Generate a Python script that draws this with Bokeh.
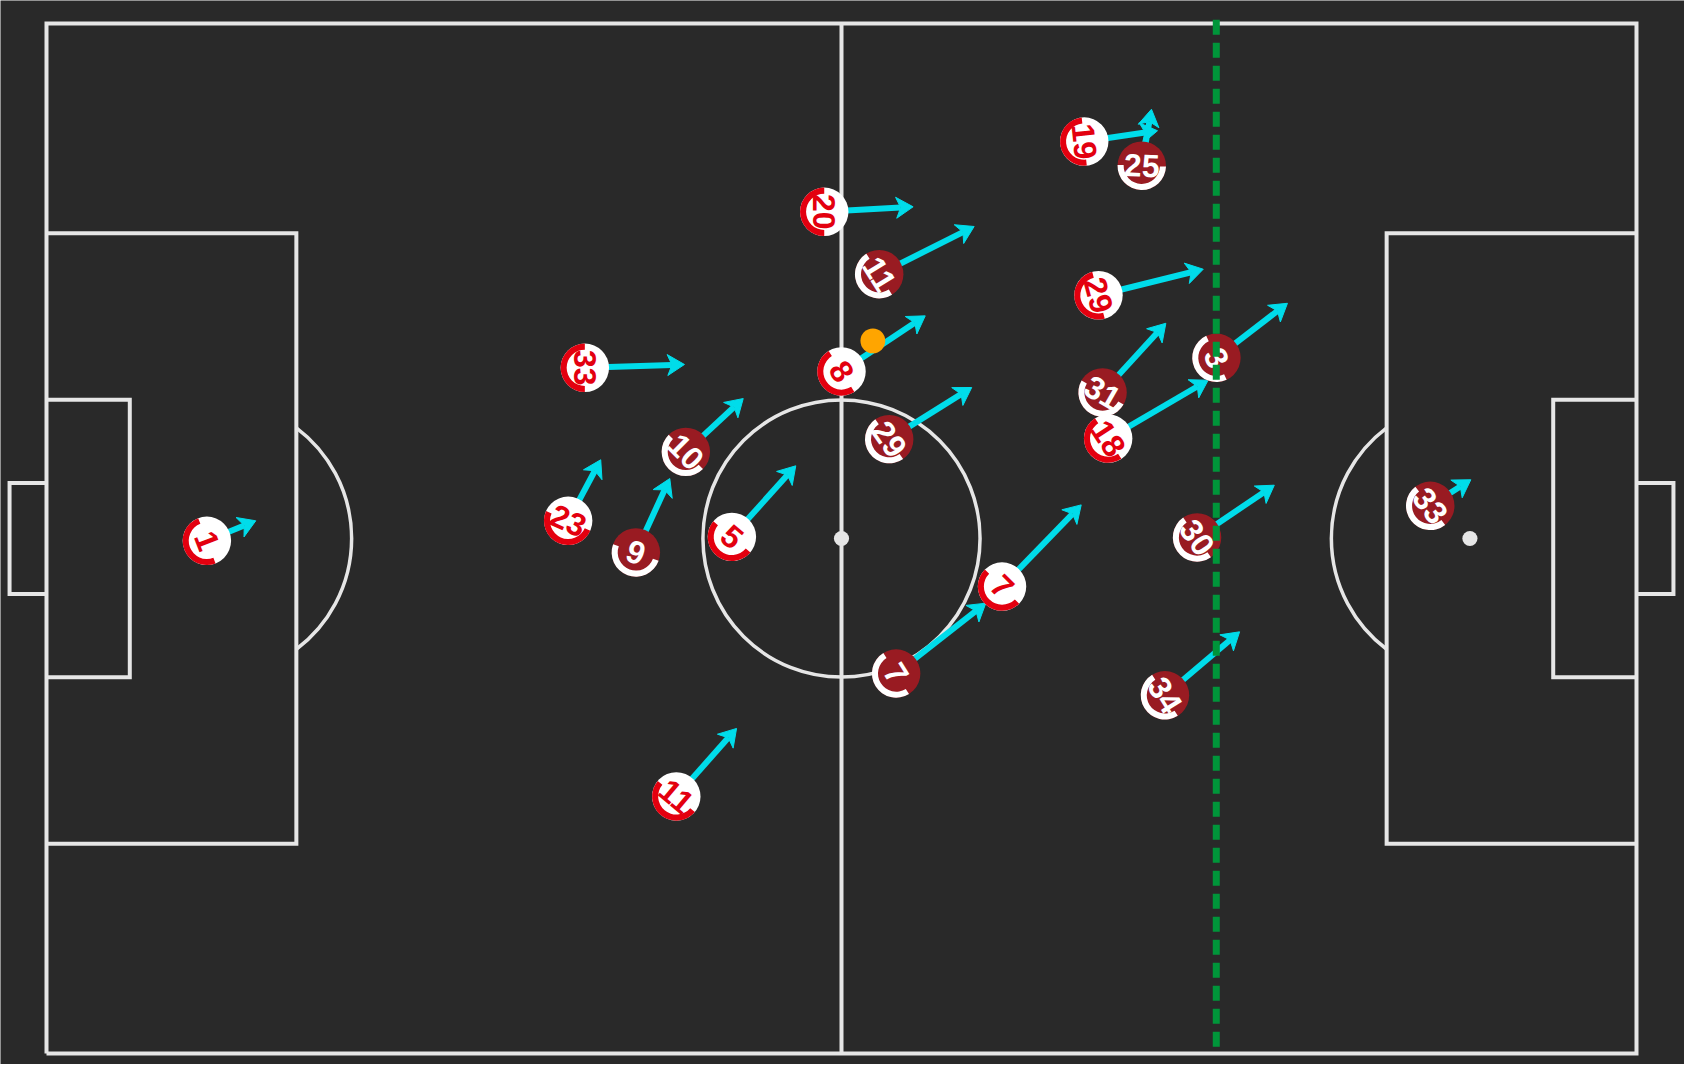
import numpy as np
from bokeh.plotting import figure
from bokeh.models import ColumnDataSource
from bokeh.core.properties import value
from bokeh.embed import file_html
from bokeh.resources import INLINE

# pitch 105 x 68 m
PITCH_L = 105.0
PITCH_W = 68.0

BG = "#292929"
LINE = "#e6e6e6"
CYAN = "#00dcea"
HOME_FILL = "#ffffff"
HOME_MARK = "#e3000f"
AWAY_FILL = "#991b22"
AWAY_MARK = "#ffffff"
GREEN = "#00953a"
BALL = "#ffa500"

# home team (white shirts)
home_num = ["1", "33", "23", "11", "5", "8", "20", "7", "29", "18", "19"]
home_x = [10.59, 35.55, 34.45, 41.59, 45.26, 52.50, 51.36, 63.10, 69.47, 70.11, 68.53]
home_y = [33.85, 45.27, 35.17, 16.97, 34.11, 45.03, 55.57, 30.83, 50.06, 40.60, 60.21]
home_end_x = [13.82, 42.13, 36.60, 45.57, 49.48, 58.03, 57.23, 68.33, 76.39, 76.71, 73.37]
home_end_y = [35.17, 45.49, 39.20, 21.46, 38.80, 48.70, 55.90, 36.22, 51.78, 44.45, 60.92]
home_facing = [21, 0, 66, 50, 50, 32, 0, 45, 15, 33, 6]

# away team (dark red shirts)
away_num = ["9", "10", "11", "29", "7", "25", "31", "3", "30", "34", "33"]
away_x = [38.92, 42.22, 54.99, 55.65, 56.11, 72.33, 69.74, 77.26, 75.98, 73.86, 91.38]
away_y = [33.08, 39.72, 51.45, 40.56, 25.09, 58.61, 43.64, 45.93, 34.07, 23.65, 36.16]
away_end_x = [41.16, 46.01, 61.26, 61.10, 62.03, 72.97, 73.92, 81.95, 81.08, 78.79, 94.06]
away_end_y = [37.96, 43.24, 54.60, 43.97, 29.73, 62.34, 48.21, 49.53, 37.52, 27.84, 37.88]
away_facing = [70, 45, 32, 35, 32, 88, 60, 25, 35, 32, 38]

ball_x = [54.57]
ball_y = [47.05]

offside_x = 77.25

PX = 15.143  # pixels per metre

p = figure(width=1684, height=1064, x_range=(-3.038, 108.17), y_range=(-0.726, 69.52),
           x_axis_type=None, y_axis_type=None, output_backend="svg", toolbar_location=None,
           min_border=0, background_fill_color=BG, border_fill_color=BG, outline_line_color=None)
p.grid.visible = False

# pitch markings
L, W = PITCH_L, PITCH_W
box_y0, box_y1 = W/2 - 20.16, W/2 + 20.16
ga_y0, ga_y1 = W/2 - 9.16, W/2 + 9.16
g_y0, g_y1 = W/2 - 3.66, W/2 + 3.66
xs = [[0, L, L, 0, 0], [L/2, L/2],
      [0, 16.5, 16.5, 0], [L, L-16.5, L-16.5, L],
      [0, 5.5, 5.5, 0], [L, L-5.5, L-5.5, L],
      [0, -2.44, -2.44, 0], [L, L+2.44, L+2.44, L]]
ys = [[0, 0, W, W, 0], [0, W],
      [box_y0, box_y0, box_y1, box_y1], [box_y0, box_y0, box_y1, box_y1],
      [ga_y0, ga_y0, ga_y1, ga_y1], [ga_y0, ga_y0, ga_y1, ga_y1],
      [g_y0, g_y0, g_y1, g_y1], [g_y0, g_y0, g_y1, g_y1]]
p.multi_line(xs, ys, line_color=LINE, line_width=4, line_join="miter", level="underlay")
p.circle(L/2, W/2, radius=9.15, fill_color=None, line_color=LINE, line_width=3.5, level="underlay")
a = np.degrees(np.arccos(5.5/9.15))
p.arc([11, L-11], [W/2, W/2], radius=9.15, start_angle=[-a, 180-a], end_angle=[a, 180+a],
      start_angle_units="deg", end_angle_units="deg", line_color=LINE, line_width=3.5, level="underlay")
p.circle([11, L/2, L-11], [W/2, W/2, W/2], radius=0.5, fill_color=LINE, line_color=None, level="underlay")


def arrows(x, y, ex, ey):
    x, y, ex, ey = map(np.asarray, (x, y, ex, ey))
    d = np.hypot(ex - x, ey - y)
    ux, uy = (ex - x) / d, (ey - y) / d
    hl, hw, notch = 17 / PX, 10.5 / PX, 12.5 / PX
    nx, ny = ex - ux * notch, ey - uy * notch
    p.segment(x, y, nx, ny, line_color=CYAN, line_width=6, level="underlay")
    bx, by = ex - ux * hl, ey - uy * hl
    hx = [[e, b - v * hw, n, b + v * hw] for e, b, n, v in zip(ex, bx, nx, uy)]
    hy = [[e, b + u * hw, n, b - u * hw] for e, b, n, u in zip(ey, by, ny, ux)]
    p.patches(hx, hy, fill_color=CYAN, line_color=CYAN, line_width=1, level="underlay")


def team_source(nums, x, y, facing):
    facing = np.array(facing, dtype=float)
    return ColumnDataSource(dict(num=nums, x=x, y=y, r0=facing + 90, r1=facing + 270, ta=facing - 90))


arrows(away_x, away_y, away_end_x, away_end_y)
arrows(home_x, home_y, home_end_x, home_end_y)

away_src = team_source(away_num, away_x, away_y, away_facing)
home_src = team_source(home_num, home_x, home_y, home_facing)

for src, fill, mark in [(away_src, AWAY_FILL, AWAY_MARK), (home_src, HOME_FILL, HOME_MARK)]:
    p.circle("x", "y", radius=1.6, fill_color=fill, line_color=None, source=src)
    p.annular_wedge("x", "y", inner_radius=1.2, outer_radius=1.6, start_angle="r0", end_angle="r1",
                    start_angle_units="deg", end_angle_units="deg", fill_color=mark, line_color=None, source=src)
    p.text("x", "y", text="num", angle="ta", angle_units="deg", text_color=mark,
           text_font=value("Liberation Sans"), text_font_size="32px", text_font_style="bold",
           text_align="center", text_baseline="middle", source=src)

p.circle(ball_x, ball_y, radius=0.82, fill_color=BALL, line_color=None)

p.line([offside_x, offside_x], [W + 0.25, 0], line_color=GREEN, line_width=7, line_dash="15 8")

open("out.html", "w").write(file_html(p, INLINE))
